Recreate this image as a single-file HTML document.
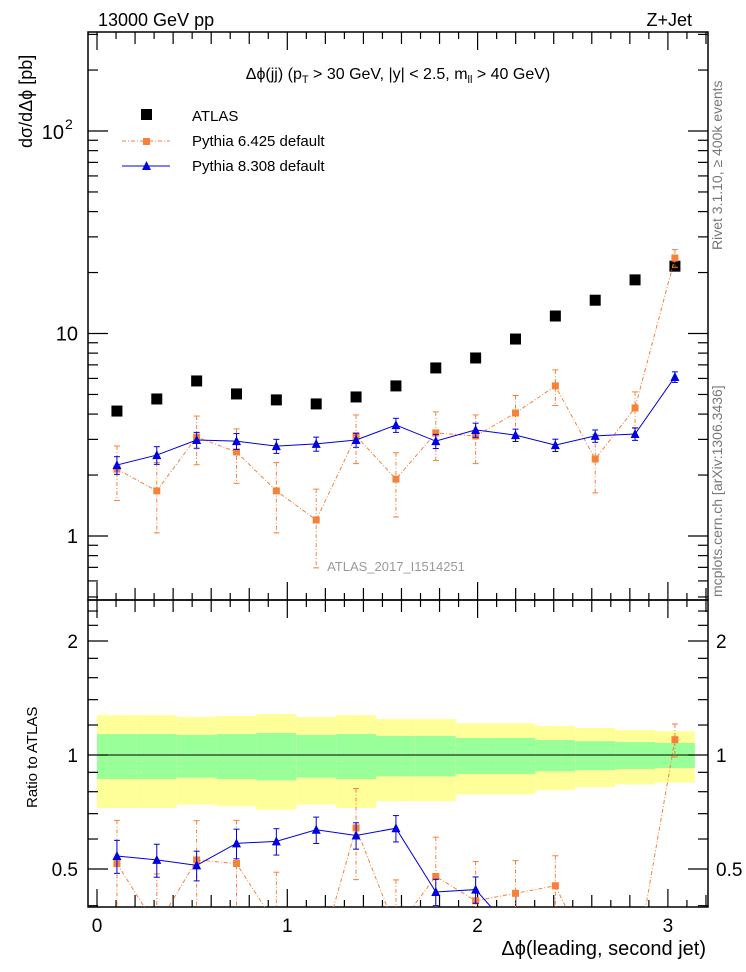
<!DOCTYPE html>
<html><head><meta charset="utf-8"><style>
html,body{margin:0;background:#fff;width:746px;height:972px;overflow:hidden}
svg{display:block;font-family:"Liberation Sans",Arial,sans-serif;overflow:hidden}
</style></head><body>
<svg id="c" width="746" height="972" viewBox="0 0 746 972">
<g id="bands"></g>
<g id="axes"></g>
<g id="series"></g>
<text x="98" y="26" font-size="18">13000 GeV pp</text>
<text x="692" y="26" font-size="18" text-anchor="end">Z+Jet</text>
<text x="398" y="79" font-size="16" text-anchor="middle">Δϕ(jj) (p<tspan font-size="11" dy="4">T</tspan><tspan dy="-4"> &gt; 30 GeV, |y| &lt; 2.5, m</tspan><tspan font-size="11" dy="4">ll</tspan><tspan dy="-4"> &gt; 40 GeV)</tspan></text>
<g>
<rect x="141" y="109" width="11" height="11" fill="#000"/>
<text x="192" y="121" font-size="15">ATLAS</text>
<line x1="122" y1="141" x2="170" y2="141" stroke="#f6823a" stroke-dasharray="4,2,1,2"/>
<rect x="143" y="138" width="7" height="7" fill="#f6823a"/>
<text x="192" y="146" font-size="15">Pythia 6.425 default</text>
<line x1="122" y1="166" x2="170" y2="166" stroke="#0000e0"/>
<polygon points="146.5,161 142,170 151,170" fill="#0000e0"/>
<text x="192" y="171" font-size="15">Pythia 8.308 default</text>
</g>
<text x="396" y="571" font-size="13" fill="#999" text-anchor="middle">ATLAS_2017_I1514251</text>
<text transform="translate(722,250) rotate(-90)" font-size="14" fill="#777">Rivet 3.1.10, ≥ 400k events</text>
<text transform="translate(722,597) rotate(-90)" font-size="14" fill="#777">mcplots.cern.ch [arXiv:1306.3436]</text>
<text transform="translate(32,148) rotate(-90)" font-size="18">dσ/dΔϕ [pb]</text>
<text transform="translate(37,808) rotate(-90)" font-size="15">Ratio to ATLAS</text>
<text x="706" y="955" font-size="20" text-anchor="end">Δϕ(leading, second jet)</text>
</svg>
<script>
const binEdges0 = 0, nBins = 15;
const atlas = [4.14,4.75,5.83,5.03,4.70,4.49,4.86,5.51,6.76,7.57,9.39,12.2,14.6,18.4,21.5];
const p6 = [2.14,1.67,3.08,2.60,1.67,1.20,3.12,1.91,3.23,3.12,4.05,5.51,2.40,4.29,23.6];
const p6err = [0.3,0.38,0.27,0.3,0.38,0.42,0.27,0.35,0.27,0.27,0.22,0.2,0.32,0.2,0.1];
const p8 = [2.24,2.51,2.98,2.94,2.78,2.85,2.98,3.53,2.94,3.34,3.15,2.81,3.12,3.19,6.10];
const p8err = [0.1,0.1,0.09,0.09,0.08,0.08,0.08,0.08,0.08,0.08,0.07,0.07,0.07,0.07,0.06];
const totErr = [0.275,0.275,0.26,0.268,0.283,0.26,0.275,0.245,0.245,0.213,0.213,0.193,0.178,0.164,0.155];
const statErr = [0.136,0.136,0.129,0.136,0.143,0.129,0.136,0.122,0.122,0.109,0.109,0.095,0.088,0.082,0.076];
const xTicks = ["0","1","2","3"];
const yTickVals = [1,10];
const rTicks = ["0.5","1","2"];

const NS="http://www.w3.org/2000/svg";
const L=88,R=708,T=32,M=600,B=907;
const W=Math.PI/nBins;
const X=v=>97+v*190.3;
const Y=v=>536-Math.log10(v)*202.5;
const RY=v=>755-Math.log2(v)*114;
const RYc=v=>Math.min(968,RY(v));
function mk(p,tag,at){const e=document.createElementNS(NS,tag);for(const k in at)e.setAttribute(k,at[k]);p.appendChild(e);return e;}
const axes=document.getElementById('axes'),bands=document.getElementById('bands'),ser=document.getElementById('series');

for(let i=0;i<nBins;i++){
  const x0=X(binEdges0+i*W),x1=X(binEdges0+(i+1)*W);
  const y=mk(bands,'rect',{x:x0,y:RY(1+totErr[i]),width:x1-x0,height:RY(1-totErr[i])-RY(1+totErr[i]),fill:'#ffff99'});
  
  
  const g=mk(bands,'rect',{x:x0,y:RY(1+statErr[i]),width:x1-x0,height:RY(1-statErr[i])-RY(1+statErr[i]),fill:'#99ff99'});
  
  
}
mk(bands,'line',{x1:L,x2:R,y1:RY(1),y2:RY(1),stroke:'#000','stroke-width':1});

const f1=mk(axes,'rect',{x:L,y:T,width:R-L,height:M-T,fill:'none',stroke:'#000','stroke-width':1.5});


const f2=mk(axes,'rect',{x:L,y:M,width:R-L,height:B-M,fill:'none',stroke:'#000','stroke-width':1.5});



for(let k=0;k<=32;k++){
  const v=k/10,x=X(v); if(x<L||x>R)continue;
  const len=k%10==0?18:(k%2==0?12:7);
  for(const [yb,d] of [[M,-1],[T,1],[B,-1],[M,1]]){
    mk(axes,'line',{x1:x,x2:x,y1:yb,y2:yb+d*len,stroke:'#000','stroke-width':1.2});
  }
}
xTicks.forEach(t=>{const e=mk(axes,'text',{x:X(+t),y:932,'font-size':19,'text-anchor':'middle'});e.textContent=t;
 
 });

for(let d=-1;d<=2;d++)for(let m=1;m<10;m++){
  const v=m*Math.pow(10,d),y=Y(v); if(y<T||y>M)continue;
  const len=m==1?20:10;
  mk(axes,'line',{x1:L,x2:L+len,y1:y,y2:y,stroke:'#000','stroke-width':1.2});
  mk(axes,'line',{x1:R,x2:R-len,y1:y,y2:y,stroke:'#000','stroke-width':1.2});
}
yTickVals.forEach(v=>{const e=mk(axes,'text',{x:78,y:Y(v)+7,'font-size':20,'text-anchor':'end'});e.textContent=String(v);
 
 });
const e100=mk(axes,'text',{x:64,y:Y(100)+8,'font-size':20,'text-anchor':'end'});e100.textContent='10';


const s100=mk(axes,'text',{x:65,y:Y(100)-2,'font-size':14});s100.textContent='2';

[0.4,0.5,0.6,0.7,0.8,0.9,1,1.2,1.4,1.6,1.8,2,2.2,2.4].forEach(v=>{
  const y=RY(v); if(y<M||y>B)return;
  const len=(v==0.5||v==1||v==2)?20:10;
  mk(axes,'line',{x1:L,x2:L+len,y1:y,y2:y,stroke:'#000','stroke-width':1.2});
  mk(axes,'line',{x1:R,x2:R-len,y1:y,y2:y,stroke:'#000','stroke-width':1.2});
});
rTicks.forEach(t=>{
  const a=mk(axes,'text',{x:78,y:RY(+t)+7,'font-size':19,'text-anchor':'end'});a.textContent=t;
  
  
  const b=mk(axes,'text',{x:716,y:RY(+t)+7,'font-size':19});b.textContent=t;
  
  
});

const defs=mk(document.getElementById('c'),'defs',{});
const c1=mk(defs,'clipPath',{id:'cm'});mk(c1,'rect',{x:L,y:T,width:R-L,height:M-T});
const c2=mk(defs,'clipPath',{id:'cr'});mk(c2,'rect',{x:L,y:M,width:R-L,height:B-M});
const gm=mk(ser,'g',{'clip-path':'url(#cm)'}),gr=mk(ser,'g',{'clip-path':'url(#cr)'});
const cx=i=>X((i+0.5)*W);

atlas.forEach((v,i)=>{const r=mk(gm,'rect',{x:cx(i)-5.5,y:Y(v)-5.5,width:11,height:11,fill:'#000'});
  
  });

function drawSeries(g,vals,errs,ys,color,dash,marker,name){
  const pts=vals.map((v,i)=>cx(i)+','+ys(v)).join(' ');
  const pl=mk(g,'polyline',{points:pts,fill:'none',stroke:color,'stroke-width':1,'stroke-dasharray':dash});
  
  
  vals.forEach((v,i)=>{
    const x=cx(i),y1=ys(v*(1+errs[i])),y2=ys(v*(1-errs[i]));
    mk(g,'line',{x1:x,x2:x,y1:y1,y2:y2,stroke:color,'stroke-width':1,'stroke-dasharray':dash});
    mk(g,'line',{x1:x-3,x2:x+3,y1:y1,y2:y1,stroke:color});
    mk(g,'line',{x1:x-3,x2:x+3,y1:y2,y2:y2,stroke:color});
    const y=ys(v);let m;
    if(marker=='sq')m=mk(g,'rect',{x:x-3.5,y:Math.min(y-3.5,960),width:7,height:7,fill:color});
    else m=mk(g,'polygon',{points:`${x},${y-5} ${x-4.5},${y+4} ${x+4.5},${y+4}`,fill:color});
    
    
  });
}
drawSeries(gm,p6,p6err,Y,'#f6823a','4,2,1,2','sq','pythia6');
drawSeries(gm,p8,p8err,Y,'#0000e0','','tri','pythia8');
drawSeries(gr,p6.map((v,i)=>v/atlas[i]),p6err,RYc,'#f6823a','4,2,1,2','sq','pythia6-ratio');
drawSeries(gr,p8.map((v,i)=>v/atlas[i]),p8err,RYc,'#0000e0','','tri','pythia8-ratio');
</script>
</body></html>
